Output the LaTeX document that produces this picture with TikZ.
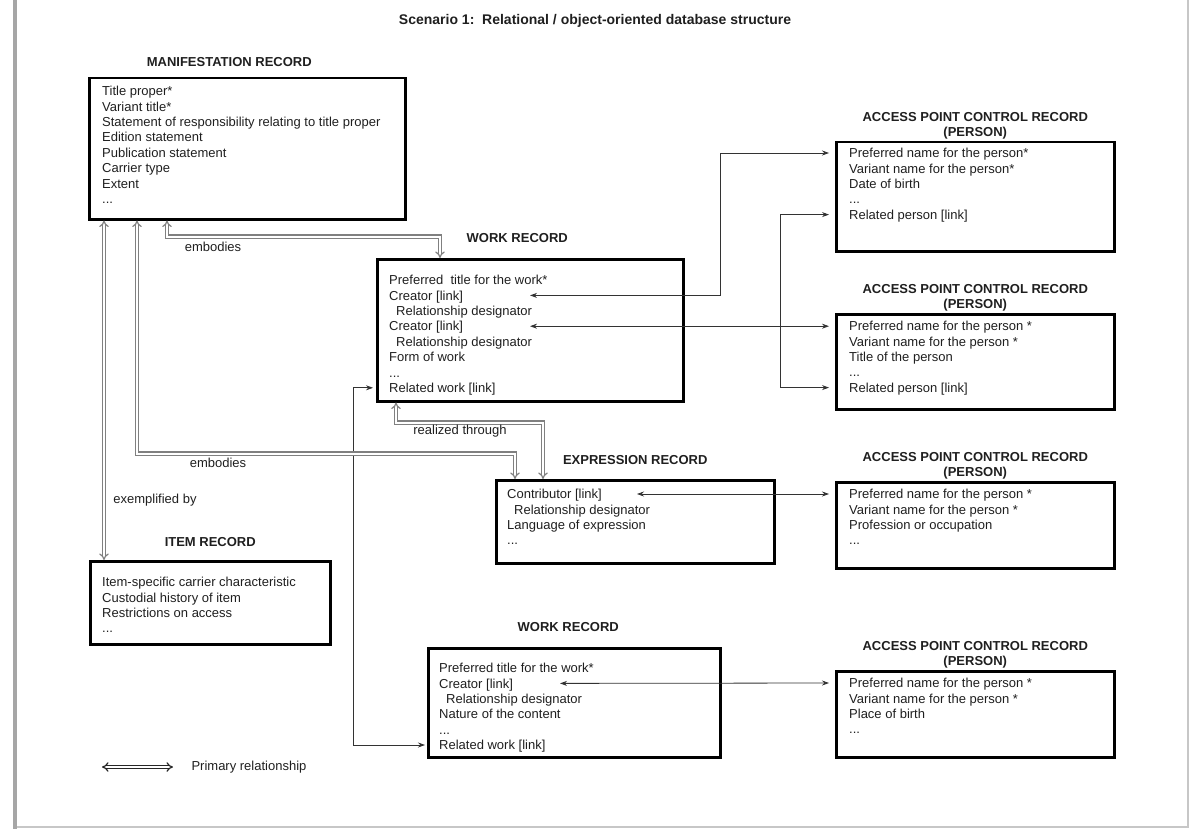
\documentclass[tikz,border=0pt]{standalone}
\usepackage{fontspec}
\setmainfont{Liberation Sans}
\usetikzlibrary{arrows.meta, positioning, calc}

\begin{document}
\begin{tikzpicture} [x=1pt, y=-1pt,
    every node/.style = {font=\fontsize{13}{15.4}\selectfont, text=black!88},
    rec/.style = {draw, line width=2.5pt, anchor=north west, inner sep=0pt},
    fields/.style = {anchor=north west, align=left, inner sep=0pt},
    rechead/.style = {font=\fontsize{13}{15}\selectfont\bfseries, align=center, inner sep=0pt},
    primrel/.style = {draw=black!50, line width=1.2pt, double=white, double distance=2pt, {Implies}-{Implies}},
    linkline/.style = {draw=black!80, line width=0.8pt, {Stealth[length=7pt, width=5pt]}-{Stealth[length=7pt, width=5pt]}}]

    \useasboundingbox (0,0) rectangle (1190,829);
    % page frame
    \fill [black!35] (13,0) rectangle (17,829);
    \draw [black!22, line width=1.5pt] (17,827) -- (1188,827) -- (1188,0);

    \node (title) [font=\fontsize{14}{16}\selectfont\bfseries] at (595,21) {Scenario 1:\ \ Relational / object-oriented database structure};

    % manifestation and item
    \node (man) [rec, minimum width=316pt, minimum height=141pt] at (88,77) {};
    \node (manh) [rechead, above=10pt of man, xshift=-18pt] {MANIFESTATION RECORD};
    \node (manf) [fields] at ($(man.north west)+(14,9)$) {Title proper*\\Variant title*\\Statement of responsibility relating to title proper\\Edition statement\\Publication statement\\Carrier type\\Extent\\...};

    \node (item) [rec, minimum width=240pt, minimum height=83pt] at (89,560) {};
    \node (itemh) [rechead, above=13pt of item] {ITEM RECORD};
    \node (itemf) [fields] at ($(item.north west)+(13,17)$) {Item-specific carrier characteristic\\Custodial history of item\\Restrictions on access\\...};

    % work and expression
    \node (w1) [rec, minimum width=306pt, minimum height=142pt] at (376,258) {};
    \node (w1h) [rechead, above=15pt of w1, xshift=-13pt] {WORK RECORD};
    \node (w1f) [fields] at ($(w1.north west)+(13,17)$) {Preferred\ \ title for the work*\\Creator [link]\\\hspace{7pt}Relationship designator\\Creator [link]\\\hspace{7pt}Relationship designator\\Form of work\\...\\Related work [link]};

    \node (ex) [rec, minimum width=278pt, minimum height=83pt] at (495,479) {};
    \node (exh) [rechead, above=14pt of ex] {EXPRESSION RECORD};
    \node (exf) [fields] at ($(ex.north west)+(12,10)$) {Contributor [link]\\\hspace{7pt}Relationship designator\\Language of expression\\...};

    \node (w2) [rec, minimum width=292pt, minimum height=109pt] at (427,647) {};
    \node (w2h) [rechead, above=15pt of w2, xshift=-6pt] {WORK RECORD};
    \node (w2f) [fields] at ($(w2.north west)+(12,16)$) {Preferred title for the work*\\Creator [link]\\\hspace{7pt}Relationship designator\\Nature of the content\\...\\Related work [link]};

    % access points
    \node (p1) [rec, minimum width=278pt, minimum height=109pt] at (835,141) {};
    \node (p1h) [rechead, above=2pt of p1] {ACCESS POINT CONTROL RECORD\\(PERSON)};
    \node (p1f) [fields] at ($(p1.north west)+(14,7)$) {Preferred name for the person*\\Variant name for the person*\\Date of birth\\...\\Related person [link]};

    \node (p2) [rec, minimum width=278pt, minimum height=95pt] at (835,313) {};
    \node (p2h) [rechead, above=2pt of p2] {ACCESS POINT CONTROL RECORD\\(PERSON)};
    \node (p2f) [fields] at ($(p2.north west)+(14,8)$) {Preferred name for the person *\\Variant name for the person *\\Title of the person\\...\\Related person [link]};

    \node (p3) [rec, minimum width=278pt, minimum height=86pt] at (835,481) {};
    \node (p3h) [rechead, above=2pt of p3] {ACCESS POINT CONTROL RECORD\\(PERSON)};
    \node (p3f) [fields] at ($(p3.north west)+(14,8)$) {Preferred name for the person *\\Variant name for the person *\\Profession or occupation\\...};

    \node (p4) [rec, minimum width=278pt, minimum height=86pt] at (835,670) {};
    \node (p4h) [rechead, above=2pt of p4] {ACCESS POINT CONTROL RECORD\\(PERSON)};
    \node (p4f) [fields] at ($(p4.north west)+(14,8)$) {Preferred name for the person *\\Variant name for the person *\\Place of birth\\...};

    % link ends
    \coordinate (w1cr1) at ($(w1.north west)+(154,37.4)$);
    \coordinate (w1cr2) at ($(w1.north west)+(154,68.2)$);
    \coordinate (w1rel) at ($(w1.north west)+(-3,129.8)$);
    \coordinate (excon) at ($(ex.north west)+(142,15)$);
    \coordinate (w2cr) at ($(w2.north west)+(133,36.4)$);
    \coordinate (w2rel) at ($(w2.north west)+(-2,98)$);
    \coordinate (p1pr) at ($(p1.north west)+(-6,12)$);
    \coordinate (p1rel) at ($(p1.north west)+(-6,73.6)$);
    \coordinate (p2pr) at ($(p2.north west)+(-6,13)$);
    \coordinate (p2rel) at ($(p2.north west)+(-6,74.6)$);
    \coordinate (p3pr) at ($(p3.north west)+(-6,13)$);
    \coordinate (p4pr) at ($(p4.north west)+(-6,13)$);

    \draw [linkline] (w1cr1) -| ([xshift=-109pt]p1pr) -- (p1pr);
    \draw [linkline] (w1cr2) -- (p2pr |- w1cr2);
    \draw [linkline] (p1rel) -| ([xshift=-49pt]p2rel) -- (p2rel);
    \draw [linkline] (excon) -- (p3pr);
    \draw [linkline] (w1rel) -| ([xshift=-72pt]w2rel) -- (w2rel);
    \draw [linkline] (w2cr) -- (p4pr);

    % primary relationships
    \draw [primrel] ([xshift=79pt]man.south west) -- ++(0,16) -| ([xshift=64pt]w1.north west);
    \draw [primrel] ([xshift=49pt]man.south west) -- ++(0,233) -| ([xshift=20pt]ex.north west);
    \draw [primrel] ([xshift=16pt]man.south west) -- ([xshift=15pt]item.north west);
    \draw [primrel] ([xshift=20pt]w1.south west) -- ++(0,20) -| ([xshift=48pt]ex.north west);

    \node (embA) at (213,247) {embodies};
    \node (embB) at (218,463) {embodies};
    \node (exby) at (155,500) {exemplified by};
    \node (realz) at (460,431) {realized through};

    % legend
    \node (legt) [anchor=west] at (188,767) {Primary relationship};
    \draw [primrel, draw=black!85] ([xshift=-86pt]legt.west) -- ([xshift=-15pt]legt.west);
\end{tikzpicture}
\end{document}
